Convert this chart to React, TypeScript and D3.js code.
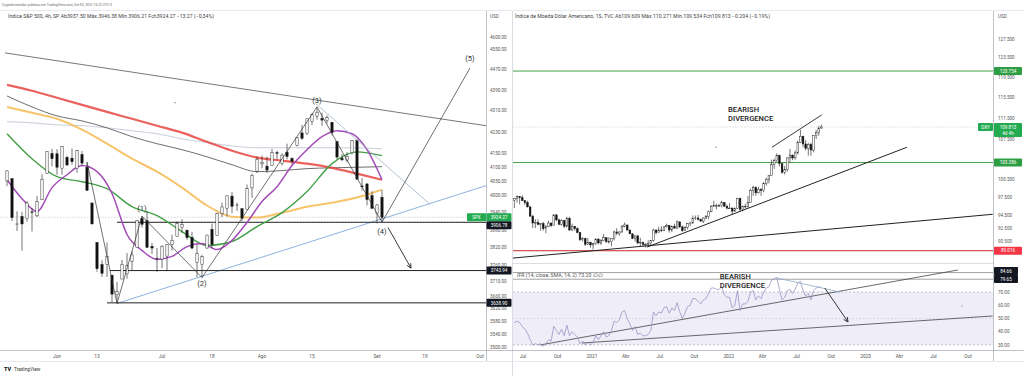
import React from "react";
import * as d3 from "d3";

// ================= S&P 500 (left pane) =================
const spxDates = [
  "05-17","05-18","05-19","05-20","05-23","05-24","05-25","05-26","05-27","05-31",
  "06-01","06-02","06-03","06-06","06-07","06-08","06-09","06-10","06-13","06-14",
  "06-15","06-16","06-17","06-21","06-22","06-23","06-24","06-27","06-28","06-29",
  "06-30","07-01","07-05","07-06","07-07","07-08","07-11","07-12","07-13","07-14",
  "07-15","07-18","07-19","07-20","07-21","07-22","07-25","07-26","07-27","07-28",
  "07-29","08-01","08-02","08-03","08-04","08-05","08-08","08-09","08-10","08-11",
  "08-12","08-15","08-16","08-17","08-18","08-19","08-22","08-23","08-24","08-25",
  "08-26","08-29","08-30","08-31","09-01","09-02",
];
const spxOHLC = [
  [4052,4090,4033,4088],[4060,4062,3911,3923],[3900,3945,3877,3901],[3927,3943,3810,3901],
  [3919,3981,3909,3974],[3943,3956,3875,3941],[3929,3999,3925,3979],[3985,4076,3984,4058],
  [4078,4158,4077,4158],[4151,4168,4104,4132],[4150,4167,4074,4101],[4096,4177,4074,4177],
  [4137,4143,4107,4109],[4134,4169,4110,4121],[4096,4164,4081,4161],[4147,4160,4107,4116],
  [4101,4120,4017,4018],[3974,3974,3900,3901],[3838,3839,3740,3750],[3764,3778,3723,3735],
  [3764,3838,3723,3790],[3729,3729,3640,3667],[3665,3707,3637,3675],[3716,3779,3716,3765],
  [3733,3802,3717,3760],[3775,3808,3743,3796],[3821,3913,3821,3912],[3920,3928,3889,3900],
  [3913,3945,3820,3821],[3825,3836,3799,3819],[3785,3819,3739,3785],[3782,3829,3752,3825],
  [3792,3832,3742,3831],[3831,3864,3810,3845],[3859,3910,3859,3903],[3889,3918,3870,3899],
  [3880,3880,3847,3854],[3855,3874,3815,3819],[3771,3830,3722,3801],[3764,3796,3721,3790],
  [3819,3864,3817,3863],[3883,3902,3818,3831],[3861,3940,3861,3937],[3936,3975,3925,3960],
  [3955,3999,3927,3999],[3998,4012,3938,3962],[3966,3975,3946,3967],[3954,3954,3910,3921],
  [3951,4039,3951,4024],[4027,4078,3992,4072],[4087,4140,4080,4130],[4113,4144,4097,4119],
  [4105,4140,4080,4091],[4108,4168,4108,4155],[4154,4161,4129,4152],[4115,4152,4107,4145],
  [4156,4187,4129,4140],[4133,4137,4112,4122],[4181,4211,4177,4210],[4227,4257,4201,4207],
  [4225,4280,4219,4280],[4270,4301,4256,4297],[4290,4325,4277,4305],[4281,4303,4253,4275],
  [4273,4293,4262,4284],[4267,4267,4218,4228],[4195,4195,4129,4138],[4134,4149,4123,4128],
  [4127,4156,4119,4141],[4154,4200,4147,4199],[4199,4204,4057,4058],[4034,4062,4017,4031],
  [4041,4044,3965,3986],[4000,4015,3954,3955],[3937,3970,3903,3967],[3994,4019,3907,3924],
];
// moving averages, sampled at session indices
const spxMaIdx = [0,5,10,15,20,25,30,35,40,45,50,55,60,65,70,75];
const spxMaRed = [4410,4387,4360,4333,4306,4280,4254,4228,4194,4161,4136,4125,4114,4099,4078,4056];
const spxMaGray = [4367,4325,4291,4272,4246,4213,4187,4165,4139,4110,4085,4089,4096,4099,4101,4103];
const spxMaLight = [4269,4265,4257,4254,4246,4235,4224,4205,4191,4179,4172,4172,4172,4172,4172,4168];
const spxMaOrange = [4325,4303,4280,4239,4187,4132,4085,4028,3965,3926,3923,3940,3961,3975,3993,4021];
const spxMaGreen = [4224,4132,4067,4049,4024,3961,3930,3875,3828,3841,3892,3940,4014,4114,4157,4143];
const spxPurpleIdx = [0,3,6,9,12,15,18,21,24,27,30,33,36,39,42,45,48,51,54,57,60,63,66,69,72,75];
const spxMaPurple = [4056,3989,3944,4028,4074,4107,4085,4007,3865,3811,3781,3791,3824,3834,3814,3845,3906,3979,4031,4107,4165,4213,4235,4224,4165,4056];
// drawings (session index, price)
const spxLevels = [3906.78, 3743.94, 3638.90];
const spxLevelStart = [22, 20.6, 20];
const spxLast = 3924.27;
const spxDownTrend = [[-0.4, 4536], [95.8, 4254]];
const spxUpTrend = [[22, 3637], [95.8, 4035]];
const spxFanLine = [[61.8, 4337], [84.6, 3969]];
const spxWaves = [[16, 4120], [22, 3637], [27, 3928], [39, 3721], [62, 4325], [75, 3907], [92.6, 4476]];
const spxWaveLabels = [["(1)", 27, 3928, -5], ["(2)", 39, 3721, 8], ["(3)", 62, 4325, -4], ["(4)", 75, 3907, 12], ["(5)", 92.6, 4476, -7]];
const spxArrow = [[76.2, 3889], [80.8, 3752]];
const spxPriceTicks = [4600,4550,4470,4390,4310,4230,4150,4100,4050,4000,3940,3880,3820,3760,3710,3660,3620,3580,3540,3500];
const spxTimeTicks = [["Jun",10],["13",18],["Jul",31],["18",41],["Ago",51],["15",61],["Set",74],["19",83.6],["Out",94.6]];

// ================= DXY weekly (right pane) =================
const dxyFirstWeek = "2020-06-08";
const dxyOHLC = [
  [96.9,97.4,95.7,97.3],[97.3,97.8,96.6,97.6],[97.6,97.6,96.3,97.4],[97.4,97.8,96.9,96.9],
  [96.9,97.0,96.2,96.6],[96.6,96.9,95.8,95.9],[95.9,96.0,94.3,94.4],[94.4,94.6,92.5,93.3],
  [93.3,93.9,92.5,93.4],[93.4,93.9,92.9,93.1],[93.1,93.3,92.1,93.2],[93.2,93.5,92.1,92.4],
  [92.4,93.0,91.7,92.7],[92.7,93.7,92.7,93.3],[93.3,93.4,92.7,92.9],[92.9,94.7,92.9,94.6],
  [94.6,94.7,93.6,93.8],[93.8,94.0,93.0,93.1],[93.1,93.9,92.9,93.7],[93.7,93.7,92.5,92.8],
  [92.8,94.3,92.6,94.0],[94.0,94.3,92.1,92.2],[92.2,93.2,92.1,92.8],[92.8,92.8,92.1,92.4],
  [92.4,92.6,91.7,91.8],[91.8,91.9,90.5,90.7],[90.7,91.1,90.4,90.9],[90.9,91.0,89.7,90.0],
  [90.0,91.0,89.9,90.3],[90.3,90.4,89.5,89.9],
  [89.9,90.2,89.2,90.1],[90.1,90.9,89.9,90.8],[90.8,90.9,90.0,90.2],[90.2,90.8,89.9,90.6],
  [90.6,91.6,90.5,91.0],[91.0,91.0,90.2,90.4],[90.4,91.1,90.1,90.4],[90.4,90.9,89.7,90.9],
  [90.9,92.1,90.6,91.9],[91.9,92.5,91.4,91.7],[91.7,92.0,91.3,91.9],[91.9,93.0,91.8,92.8],
  [92.8,93.4,92.6,93.0],[93.0,93.0,92.1,92.2],[92.2,92.3,91.6,91.6],[91.6,91.7,90.8,90.9],
  [90.9,91.3,90.4,91.3],[91.3,91.4,90.0,90.2],[90.2,91.0,89.7,90.3],[90.3,90.4,89.6,90.0],
  [90.0,90.2,89.5,90.0],[90.0,90.6,89.7,90.1],[90.1,90.6,89.8,90.6],[90.6,92.4,90.4,92.2],
  [92.2,92.3,91.5,91.8],[91.8,92.7,91.8,92.2],[92.2,92.8,91.9,92.1],[92.1,92.8,92.0,92.7],
  [92.7,93.2,92.6,92.9],[92.9,93.0,91.8,92.2],[92.2,92.9,91.9,92.8],[92.8,93.2,92.4,92.5],
  [92.5,93.7,92.4,93.5],[93.5,93.5,92.5,92.7],[92.7,92.9,91.9,92.1],[92.1,92.8,92.1,92.6],
  [92.6,93.3,92.3,93.2],[93.2,93.5,92.8,93.3],[93.3,94.5,93.2,94.0],[94.0,94.5,93.8,94.1],
  [94.1,94.6,93.7,93.9],[93.9,94.0,93.5,93.6],[93.6,94.2,93.3,94.1],[94.1,94.6,93.9,94.3],
  [94.3,95.3,93.9,95.1],[95.1,96.2,95.0,96.0],[96.0,96.9,95.9,96.1],[96.1,96.4,95.5,96.1],
  [96.1,96.4,95.9,96.1],[96.1,96.9,95.8,96.6],[96.6,96.7,95.9,96.0],[96.0,96.3,95.5,95.7],
  [95.7,96.5,95.6,95.7],[95.7,95.8,94.6,95.2],[95.2,95.8,95.1,95.6],[95.6,97.4,95.5,97.3],
  [97.3,97.4,95.1,95.5],[95.5,96.1,95.2,96.0],[96.0,96.4,95.6,96.0],[96.0,97.7,95.7,96.6],
  [96.6,98.9,96.6,98.6],[98.6,99.4,97.7,99.1],[99.1,99.3,97.7,98.2],[98.2,99.2,98.1,98.8],
  [98.8,99.0,97.7,98.6],[98.6,100.0,98.3,99.8],[99.8,100.8,99.4,100.5],[100.5,101.0,99.8,101.1],
  [101.1,103.9,101.1,103.0],[103.0,104.1,102.3,103.7],[103.7,105.0,103.5,104.6],[104.6,104.8,102.7,103.2],
  [103.2,103.2,101.4,101.7],[101.7,102.8,101.3,102.2],[102.2,104.3,101.8,104.2],[104.2,105.8,103.4,104.7],
  [104.7,104.8,103.8,104.2],[104.2,105.5,103.9,105.1],[105.1,107.3,104.8,107.0],[107.0,109.3,106.9,108.1],
  [108.1,108.2,106.1,106.7],[106.7,107.4,105.5,105.9],[105.9,106.9,104.6,106.6],[106.6,106.9,104.6,105.6],
  [105.6,108.2,105.2,108.2],[108.2,109.3,107.6,108.8],[108.8,110.0,108.2,109.6],[109.609,110.271,109.534,109.813],
];
const dxyRsi = [
  47,48,47,44,42,39,34,30,31,30, 31,29,31,34,33,44,41,38,42,37,
  45,37,40,38,36,31,33,30,32,30, 32,37,34,37,40,36,37,41,48,47,
  49,55,56,50,46,41,44,38,39,37, 37,38,41,55,52,55,54,58,59,54,
  58,56,62,55,50,54,59,60,65,65, 63,61,64,65,69,73,73,72,72,74,
  68,66,66,58,60,71,56,61,61,63, 70,71,64,67,65,70,73,74,79,80,
  81,72,64,66,71,72,69,72,77,78, 71,67,69,64,71,73,74,73.2,
];
const dxyLevels = [
  { v: 120.754, color: "#43a047" },
  { v: 103.386, color: "#43a047" },
  { v: 89.016, color: "#c62828" },
];
const dxyLast = 109.813;
const dxyTrend1 = [["2020-06-01", 87.9], ["2023-12-06", 94.7]];
const dxyTrend2 = [["2021-05-28", 89.57], ["2023-04-21", 106.1]];
const dxyDivLine = [["2022-04-26", 106.1], ["2022-09-06", 112.1]];
const dxyNote = ["2021-12-30", 112.6];
const rsiLevels = [84.66, 79.65];
const rsiUpper = [["2020-08-15", 30.0], ["2023-09-04", 86.6]];
const rsiLower = [["2020-12-05", 31.5], ["2023-12-06", 51.9]];
const rsiDivLine = [["2022-05-09", 80.6], ["2022-10-24", 70.0]];
const rsiArrow = [["2022-09-14", 73.0], ["2022-11-15", 47.4]];
const rsiNote = ["2021-12-08", 79.8];
const dxyPriceTicks = [127.5,123.5,119.5,115.5,111.5,107.5,100.5,97.5,94.5,92.5,90.5];
const rsiTicks = [70,60,50,40,30];
const dxyTimeTicks = [
  ["2020-07-01","Jul"],["2020-10-01","Out"],["2021-01-01","2021"],["2021-04-01","Abr"],
  ["2021-07-01","Jul"],["2021-10-01","Out"],["2022-01-01","2022"],["2022-04-01","Abr"],
  ["2022-07-01","Jul"],["2022-10-01","Out"],["2023-01-01","2023"],["2023-04-01","Abr"],
  ["2023-07-01","Jul"],["2023-10-01","Out"],
];

const FONT = "Roboto, 'Liberation Sans', Arial, sans-serif";
const AX = "#555";
const pd = (s: string) => { const [Y, M, D] = s.split("-").map(Number); return new Date(Y, M - 1, D); };

function arrowHead(x1: number, y1: number, x2: number, y2: number, s: number) {
  const a = Math.atan2(y2 - y1, x2 - x1);
  const p1 = [x2 - s * Math.cos(a - 0.45), y2 - s * Math.sin(a - 0.45)];
  const p2 = [x2 - s * Math.cos(a + 0.45), y2 - s * Math.sin(a + 0.45)];
  return `M${p1[0]},${p1[1]}L${x2},${y2}L${p2[0]},${p2[1]}`;
}

function Candles({ rows, xs, y, w }: any) {
  return (
    <g>
      {rows.map((r: number[], i: number) => {
        const [o, h, l, c] = r;
        const up = c >= o;
        const cx = xs[i];
        const yt = y(Math.max(o, c));
        const yb = y(Math.min(o, c));
        return (
          <g key={i}>
            <line x1={cx} x2={cx} y1={y(h)} y2={y(l)} stroke="#1a1a1a" strokeWidth={0.6} />
            <rect x={cx - w / 2} y={yt} width={w} height={Math.max(0.7, yb - yt)}
              fill={up ? "#ffffff" : "#111111"} stroke="#1a1a1a" strokeWidth={0.45} />
          </g>
        );
      })}
    </g>
  );
}

function Tag({ x, y, w, h = 8, text, bg, fg = "#fff", size = 4.6 }: any) {
  return (
    <g>
      <rect x={x} y={y - h / 2} width={w} height={h} fill={bg} rx={0.8} />
      <text x={x + w / 2} y={y + size * 0.36} textAnchor="middle" fontSize={size} fill={fg}>{text}</text>
    </g>
  );
}

export default function App() {
  // left scales
  const sx = d3.scaleLinear().domain([0, 75]).range([7, 382]);
  const sy = d3.scaleLog().domain([3500, 4600]).range([347, 37]);
  // right scales
  const dx = d3.scaleTime().domain([pd("2020-07-01"), pd("2023-10-01")]).range([523, 968]);
  const dy = d3.scaleLog().domain([90.5, 127.5]).range([241, 39]);
  const ry = d3.scaleLinear().domain([30, 70]).range([345, 292]);

  const spxXs = spxOHLC.map((_, i) => sx(i));
  const weeks = dxyOHLC.map((_, k) => d3.timeDay.offset(pd(dxyFirstWeek), 7 * k));
  const dxyXs = weeks.map((d) => dx(d));

  const maPath = (idx: number[], vals: number[]) =>
    d3.line<number>().x((_, i) => sx(idx[i])).y((v) => sy(v)).curve(d3.curveMonotoneX)(vals) || "";
  const spxSeg = (pts: number[][]) => d3.line<number[]>().x((p) => sx(p[0])).y((p) => sy(p[1]))(pts) || "";
  const dxySeg = (pts: any[]) => d3.line<any>().x((p) => dx(pd(p[0]))).y((p) => dy(p[1]))(pts) || "";
  const rsiSeg = (pts: any[]) => d3.line<any>().x((p) => dx(pd(p[0]))).y((p) => ry(p[1]))(pts) || "";
  const rsiPath = d3.line<number>().x((_, k) => dxyXs[k]).y((v) => ry(v))(dxyRsi) || "";

  const la = spxArrow.map((p) => [sx(p[0]), sy(p[1])]);
  const ra = rsiArrow.map((p) => [dx(pd(p[0] as string)), ry(p[1] as number)]);

  const yLast = sy(spxLast);
  const blackTagY = spxLevels.map((v, i) => (i === 0 ? Math.max(sy(v), yLast + 8) : sy(v)));
  const rsiTagY = [ry(rsiLevels[0]) - 1.5, ry(rsiLevels[0]) - 1.5 + 8];

  return (
    <svg width={1024} height={376} style={{ position: "absolute", left: 0, top: 0, background: "#fff" }}
      fontFamily={FONT}>
      <defs>
        <clipPath id="clipL"><rect x={0} y={11} width={486} height={339} /></clipPath>
        <clipPath id="clipR"><rect x={513} y={11} width={480} height={252} /></clipPath>
        <clipPath id="clipRsi"><rect x={513} y={264} width={480} height={86} /></clipPath>
      </defs>
      <rect width={1024} height={376} fill="#fff" />

      {/* header */}
      <text x={2} y={6} fontSize={3.8} fill="#666" textLength={110} lengthAdjust="spacingAndGlyphs">
        CryptoInvestidor publicou em TradingView.com, Set 05, 2022 16:22 UTC-3
      </text>
      <line x1={0} x2={1024} y1={10.5} y2={10.5} stroke="#e0e3eb" strokeWidth={0.8} />

      {/* frame lines */}
      <line x1={486.5} x2={486.5} y1={11} y2={361} stroke="#9598a1" strokeWidth={0.6} />
      <line x1={512.5} x2={512.5} y1={11} y2={376} stroke="#d1d4dc" strokeWidth={0.8} />
      <line x1={993.5} x2={993.5} y1={11} y2={361} stroke="#9598a1" strokeWidth={0.6} />
      <line x1={0} x2={1024} y1={350.5} y2={350.5} stroke="#9598a1" strokeWidth={0.6} />
      <line x1={0} x2={1024} y1={361.5} y2={361.5} stroke="#e0e3eb" strokeWidth={0.8} />
      <line x1={513} x2={993} y1={263.5} y2={263.5} stroke="#d1d4dc" strokeWidth={0.8} />

      {/* ============ LEFT: S&P 500 ============ */}
      <g clipPath="url(#clipL)">
        <line x1={0} x2={486} y1={yLast} y2={yLast} stroke="#b8bcc4" strokeWidth={0.6} strokeDasharray="1.5,1.5" />
        <path d={spxSeg(spxDownTrend)} stroke="#555" strokeWidth={0.8} fill="none" />
        <path d={spxSeg(spxUpTrend)} stroke="#5b8fd0" strokeWidth={0.7} fill="none" />
        {spxLevels.map((v, i) => (
          <line key={i} x1={sx(spxLevelStart[i])} x2={486} y1={sy(v)} y2={sy(v)} stroke="#222" strokeWidth={1} />
        ))}
        <path d={maPath(spxMaIdx, spxMaLight)} stroke="#b7c3cf" strokeWidth={0.8} fill="none" />
        <path d={maPath(spxMaIdx, spxMaGray)} stroke="#5d5d5d" strokeWidth={0.9} fill="none" />
        <path d={maPath(spxMaIdx, spxMaRed)} stroke="#e53935" strokeOpacity={0.8} strokeWidth={2.2} fill="none" />
        <path d={maPath(spxMaIdx, spxMaOrange)} stroke="#f6be5c" strokeOpacity={0.9} strokeWidth={2} fill="none" />
        <path d={maPath(spxMaIdx, spxMaGreen)} stroke="#43a047" strokeWidth={1.4} fill="none" />
        <path d={maPath(spxPurpleIdx, spxMaPurple)} stroke="#a34bb8" strokeWidth={1.5} fill="none" />
        <Candles rows={spxOHLC} xs={spxXs} y={sy} w={2.3} />
        <path d={spxSeg(spxFanLine)} stroke="#9fb3c8" strokeWidth={0.8} fill="none" />
        <path d={spxSeg(spxWaves)} stroke="#333" strokeWidth={0.7} fill="none" />
        <path d={`M${la[0][0]},${la[0][1]}L${la[1][0]},${la[1][1]}`} stroke="#222" strokeWidth={0.9} fill="none" />
        <path d={arrowHead(la[0][0], la[0][1], la[1][0], la[1][1], 5)} stroke="#222" strokeWidth={0.9} fill="none" />
        {spxWaveLabels.map((w: any, i) => (
          <text key={i} x={sx(w[1])} y={sy(w[2]) + w[3]} textAnchor="middle" fontSize={7.5} fill="#333">{w[0]}</text>
        ))}
        <circle cx={sx(33.6)} cy={sy(4341)} r={0.7} fill="#777" />
      </g>
      <text x={8} y={18} fontSize={4.8} fill="#444" textLength={206} lengthAdjust="spacingAndGlyphs">
        Índice S&amp;P 500, 4h, SP  Ab3937.50  Máx.3946.38  Mín.3906.21  Fch3924.27  −13.27 (−0,34%)
      </text>

      {/* left price axis */}
      <text x={490} y={18} fontSize={4.6} fill={AX}>USD</text>
      {spxPriceTicks.map((t) => (
        <text key={t} x={490} y={sy(t) + 1.6} fontSize={4.6} fill={AX}>{t.toFixed(2)}</text>
      ))}
      <Tag x={467} y={yLast} w={19} text="SPX" bg="#22ab50" />
      <Tag x={486.5} y={yLast} w={25} text={spxLast.toFixed(2)} bg="#22ab50" />
      {spxLevels.map((v, i) => (
        <Tag key={i} x={486.5} y={blackTagY[i]} w={25} text={v.toFixed(2)} bg="#131722" />
      ))}
      {spxTimeTicks.map((t: any) => (
        <text key={t[0] + t[1]} x={sx(t[1])} y={358} textAnchor="middle" fontSize={4.8} fill={AX}>{t[0]}</text>
      ))}

      {/* ============ RIGHT: DXY ============ */}
      <g clipPath="url(#clipR)">
        {dxyLevels.map((l, i) => (
          <line key={i} x1={513} x2={993} y1={dy(l.v)} y2={dy(l.v)} stroke={l.color} strokeWidth={1} />
        ))}
        <line x1={513} x2={993} y1={dy(dxyLast)} y2={dy(dxyLast)} stroke="#c3c6cc" strokeWidth={0.6} strokeDasharray="1.5,1.5" />
        <path d={dxySeg(dxyTrend1)} stroke="#222" strokeWidth={1} fill="none" />
        <path d={dxySeg(dxyTrend2)} stroke="#222" strokeWidth={1} fill="none" />
        <path d={dxySeg(dxyDivLine)} stroke="#222" strokeWidth={0.9} fill="none" />
        <Candles rows={dxyOHLC} xs={dxyXs} y={dy} w={1.7} />
        <text x={dx(pd(dxyNote[0] as string))} y={dy(dxyNote[1] as number)} fontSize={7.6} fontWeight={500} fill="#222">BEARISH</text>
        <text x={dx(pd(dxyNote[0] as string))} y={dy(dxyNote[1] as number) + 9} fontSize={7.6} fontWeight={500} fill="#222">DIVERGENCE</text>
        <circle cx={dx(pd("2021-11-28"))} cy={dy(106.1)} r={0.7} fill="#777" />
      </g>
      <text x={515} y={18} fontSize={4.8} fill="#444" textLength={255} lengthAdjust="spacingAndGlyphs">
        Índice de Moeda Dólar Americano, 1S, TVC  Ab109.609  Máx.110.271  Mín.109.534  Fch109.813  −0.204 (−0.19%)
      </text>

      {/* RSI pane */}
      <g clipPath="url(#clipRsi)">
        <rect x={513} y={ry(70)} width={480} height={ry(30) - ry(70)} fill="#efedf8" />
        {[70, 30].map((v) => (
          <line key={v} x1={513} x2={993} y1={ry(v)} y2={ry(v)} stroke="#9a9aa6" strokeWidth={0.6} strokeDasharray="2,2" />
        ))}
        <line x1={513} x2={993} y1={ry(50)} y2={ry(50)} stroke="#b9b9c4" strokeWidth={0.5} strokeDasharray="1.5,2" />
        {rsiLevels.map((v) => (
          <line key={v} x1={513} x2={993} y1={ry(v)} y2={ry(v)} stroke="#8a8a8a" strokeWidth={0.8} />
        ))}
        <path d={rsiSeg(rsiUpper)} stroke="#444" strokeWidth={0.8} fill="none" />
        <path d={rsiSeg(rsiLower)} stroke="#444" strokeWidth={0.8} fill="none" />
        <path d={rsiPath} stroke="#9d93c4" strokeWidth={0.8} fill="none" />
        <path d={rsiSeg(rsiDivLine)} stroke="#8fa9c7" strokeWidth={0.8} fill="none" />
        <path d={`M${ra[0][0]},${ra[0][1]}L${ra[1][0]},${ra[1][1]}`} stroke="#222" strokeWidth={0.9} fill="none" />
        <path d={arrowHead(ra[0][0], ra[0][1], ra[1][0], ra[1][1], 5)} stroke="#222" strokeWidth={0.9} fill="none" />
        <text x={dx(pd(rsiNote[0] as string))} y={ry(rsiNote[1] as number)} fontSize={7.6} fontWeight={500} fill="#222">BEARISH</text>
        <text x={dx(pd(rsiNote[0] as string))} y={ry(rsiNote[1] as number) + 9} fontSize={7.6} fontWeight={500} fill="#222">DIVERGENCE</text>
        <circle cx={dx(pd("2023-09-15"))} cy={ry(59.4)} r={0.7} fill="#999" />
      </g>
      <text x={517} y={277} fontSize={4.6} fill="#555" textLength={86} lengthAdjust="spacingAndGlyphs">
        IFR (14, close, SMA, 14, 2)  73.20  ∅  ∅
      </text>

      {/* right axis */}
      <text x={998} y={18} fontSize={4.6} fill={AX}>USD</text>
      {dxyPriceTicks.map((t) => (
        <text key={t} x={998} y={dy(t) + 1.6} fontSize={4.6} fill={AX}>{t.toFixed(3)}</text>
      ))}
      {rsiTicks.map((t) => (
        <text key={t} x={998} y={ry(t) + 1.6} fontSize={4.6} fill={AX}>{t.toFixed(2)}</text>
      ))}
      {dxyLevels.map((l, i) => (
        <Tag key={i} x={994} y={dy(l.v)} w={28} text={l.v.toFixed(3)} bg={i === 2 ? "#f23645" : "#2e9e44"} />
      ))}
      <Tag x={978} y={dy(dxyLast)} w={15} text="DXY" bg="#22ab50" />
      <rect x={994} y={dy(dxyLast) - 4} width={28} height={14} fill="#22ab50" rx={0.8} />
      <text x={1008} y={dy(dxyLast) + 1.7} textAnchor="middle" fontSize={4.6} fill="#fff">{dxyLast.toFixed(3)}</text>
      <text x={1008} y={dy(dxyLast) + 7.5} textAnchor="middle" fontSize={4.6} fill="#fff">4d 4h</text>
      {rsiLevels.map((v, i) => (
        <Tag key={v} x={994} y={rsiTagY[i]} w={24} text={v.toFixed(2)} bg="#131722" />
      ))}
      {dxyTimeTicks.map((t) => (
        <text key={t[0]} x={dx(pd(t[0]))} y={358} textAnchor="middle" fontSize={4.8} fill={AX}>{t[1]}</text>
      ))}

      {/* footer */}
      <text x={4} y={370.5} fontSize={5.5} fontWeight={900} fill="#131722">TV</text>
      <text x={14} y={370.5} fontSize={4.8} fill="#333">TradingView</text>
    </svg>
  );
}
